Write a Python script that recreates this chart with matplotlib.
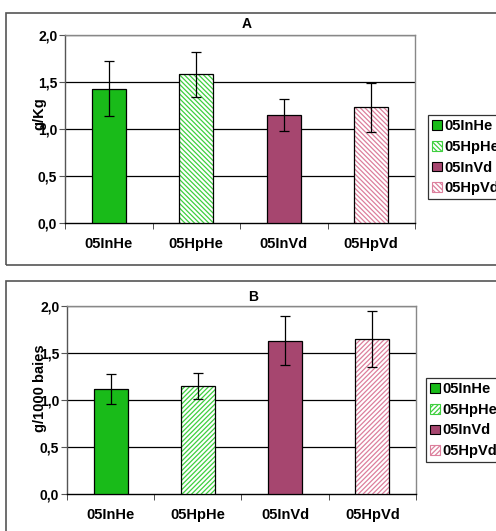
import matplotlib
matplotlib.use("Agg")
import matplotlib.pyplot as plt
from matplotlib.patches import Patch, Rectangle

plt.rcParams["font.family"] = ["Liberation Sans", "DejaVu Sans"]
plt.rcParams["font.weight"] = "bold"

categories = ["05InHe", "05HpHe", "05InVd", "05HpVd"]

# panel A: g/Kg
values_a = [1.43, 1.58, 1.15, 1.23]
errors_a = [0.29, 0.24, 0.17, 0.26]

# panel B: g/1000 baies
values_b = [1.12, 1.15, 1.63, 1.65]
errors_b = [0.16, 0.14, 0.26, 0.30]

yticks = [0.0, 0.5, 1.0, 1.5, 2.0]
ytick_labels = ["0,0", "0,5", "1,0", "1,5", "2,0"]

GREEN = "#19bb19"
GREEN_HATCH = "#3fcf3f"
MAROON = "#a6466f"
PINK_HATCH = "#dc7f9c"

plt.rcParams["hatch.linewidth"] = 0.9

fig = plt.figure(figsize=(4.96, 5.31), dpi=100)

# outer chart frames
fig.patches.append(Rectangle((6 / 496, 1 - 265 / 531), 500 / 496, 252 / 531,
                             transform=fig.transFigure, fill=False,
                             edgecolor="#555555", lw=1.2))
fig.patches.append(Rectangle((6 / 496, -0.02), 500 / 496, 1 - 281 / 531 + 0.02,
                             transform=fig.transFigure, fill=False,
                             edgecolor="#555555", lw=1.2))


def draw_panel(rect, values, errors, title, ylabel, hatch, label_xy, title_xy, leg_anchor):
    ax = fig.add_axes(rect)
    x = list(range(len(categories)))
    fills = [GREEN, "white", MAROON, "white"]
    hatch_cols = [GREEN, GREEN_HATCH, MAROON, PINK_HATCH]
    hatches = [None, hatch, None, hatch]
    for i in x:
        ax.bar(i, values[i], width=0.39, color=fills[i], edgecolor=hatch_cols[i],
               hatch=hatches[i], linewidth=0, zorder=3)
        ax.bar(i, values[i], width=0.39, fill=False, edgecolor="black",
               linewidth=0.9, zorder=4)
    ax.errorbar(x, values, yerr=errors, fmt="none", ecolor="black",
                elinewidth=0.9, capsize=3.3, capthick=0.9, zorder=5)

    for y in yticks[1:]:
        ax.axhline(y, color="black", lw=0.9, zorder=1)

    ax.set_xlim(-0.5, 3.5)
    ax.set_ylim(0, 2.0)
    ax.set_yticks(yticks)
    ax.set_yticklabels(ytick_labels, fontsize=10, fontweight="bold")
    ax.set_xticks(x)
    ax.set_xticklabels(categories, fontsize=10.5, fontweight="bold")
    ax.set_xticks([-0.5, 0.5, 1.5, 2.5, 3.5], minor=True)
    ax.tick_params(axis="x", which="major", length=0, pad=10)
    ax.tick_params(axis="x", which="minor", length=4, direction="out", color="#333333")
    ax.tick_params(axis="y", length=4, direction="out", color="#555555", pad=1.5)
    for side in ["top", "right"]:
        ax.spines[side].set_color("#888888")
    ax.spines["left"].set_color("#555555")
    ax.spines["bottom"].set_color("black")
    for s in ax.spines.values():
        s.set_linewidth(1.0)

    ax.set_ylabel(ylabel, fontsize=10.5, fontweight="bold")
    ax.yaxis.set_label_coords(*label_xy)
    ax.text(title_xy[0], title_xy[1], title, transform=ax.transAxes,
            ha="center", va="center", fontsize=10, fontweight="bold")

    handles = [
        Patch(facecolor=GREEN, edgecolor="black", lw=0.8),
        Patch(facecolor="white", edgecolor=GREEN_HATCH, hatch=hatch, lw=0.8),
        Patch(facecolor=MAROON, edgecolor="black", lw=0.8),
        Patch(facecolor="white", edgecolor=PINK_HATCH, hatch=hatch, lw=0.8),
    ]
    leg = fig.legend(handles, categories, loc="upper left", bbox_to_anchor=leg_anchor,
                     bbox_transform=fig.transFigure, fontsize=10.5,
                     handlelength=0.65, handleheight=0.65, handletextpad=0.2,
                     labelspacing=0.45, borderpad=0.3, borderaxespad=0,
                     fancybox=False, frameon=True)
    leg.get_frame().set_edgecolor("black")
    leg.get_frame().set_linewidth(0.9)
    for t in leg.get_texts():
        t.set_fontweight("bold")
    return ax


draw_panel([65 / 496, 1 - 223 / 531, 350 / 496, 188 / 531], values_a, errors_a,
           "A", "g/Kg", "\\\\\\\\\\\\\\", (-0.052, 0.58), (0.52, 1.058),
           (428 / 496, 1 - 115 / 531))
draw_panel([67 / 496, 1 - 494 / 531, 349 / 496, 188 / 531], values_b, errors_b,
           "B", "g/1000 baies", "///////", (-0.057, 0.565), (0.533, 1.048),
           (426 / 496, 1 - 378 / 531))

fig.savefig("out.png", dpi=100)
